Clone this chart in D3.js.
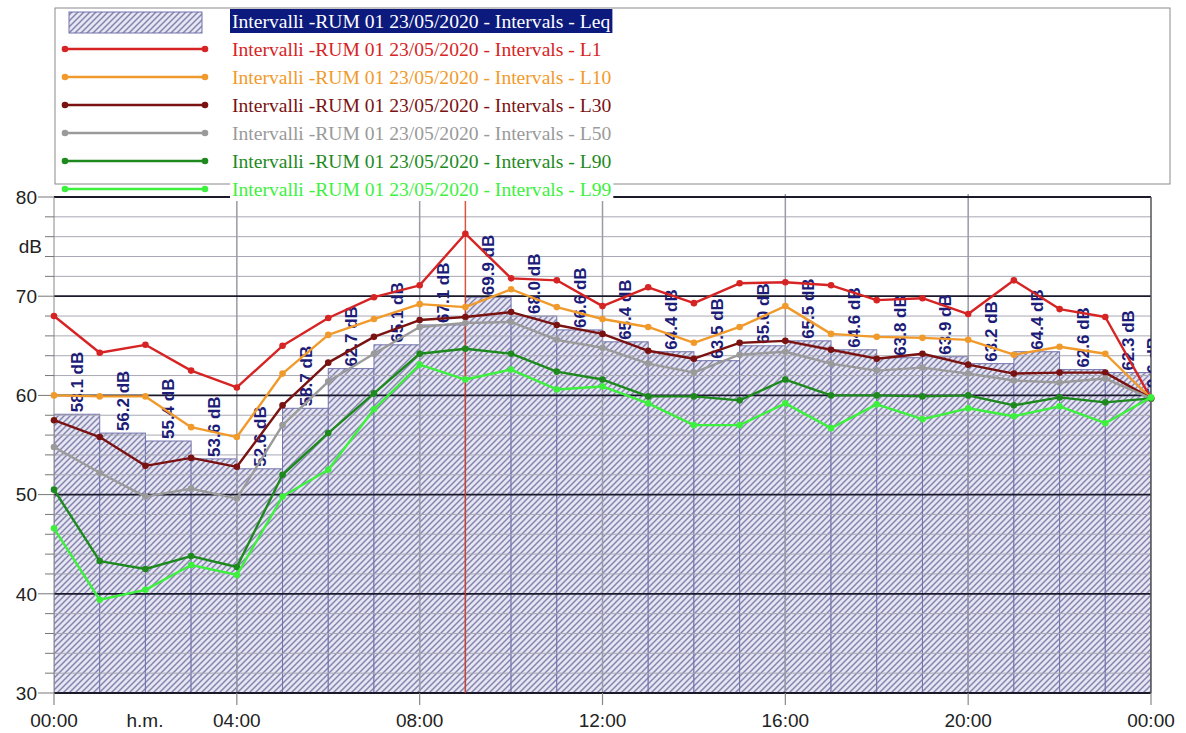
<!DOCTYPE html>
<html><head><meta charset="utf-8">
<script src="https://cdn.jsdelivr.net/npm/d3@7"></script>
<style>body{margin:0;background:#fff}svg{display:block}</style>
</head><body>
<svg id="c" width="1186" height="733"></svg>
<script>
// ---- data ----
const hours = [0,1,2,3,4,5,6,7,8,9,10,11,12,13,14,15,16,17,18,19,20,21,22,23,24];
const leq  = [58.1,56.2,55.4,53.6,52.6,58.7,62.7,65.1,67.1,69.9,68.0,66.6,65.4,64.4,63.5,65.0,65.5,64.6,63.8,63.9,63.2,64.4,62.6,62.3,59.6];
const l1   = [68.0,64.3,65.1,62.5,60.8,65.0,67.8,69.9,71.1,76.3,71.8,71.6,69.0,70.9,69.3,71.3,71.4,71.1,69.6,69.8,68.2,71.6,68.7,67.9,59.7];
const l10  = [60.0,59.9,59.9,56.8,55.8,62.2,66.1,67.7,69.2,68.9,70.7,68.9,67.7,66.9,65.3,66.9,69.0,66.2,65.9,65.8,65.6,64.1,64.9,64.2,59.7];
const l30  = [57.5,55.8,52.9,53.7,52.8,59.0,63.3,65.9,67.6,67.9,68.4,67.1,66.2,64.5,63.7,65.3,65.5,64.6,63.7,64.2,63.1,62.2,62.3,62.3,59.7];
const l50  = [54.8,52.2,49.8,50.6,49.6,57.0,61.4,64.2,66.9,67.3,67.4,65.6,64.8,63.2,62.3,64.1,64.4,63.2,62.5,62.8,62.2,61.5,61.3,61.7,59.7];
const l90  = [50.5,43.3,42.5,43.8,42.7,52.0,56.2,60.2,64.2,64.7,64.2,62.4,61.6,59.9,59.9,59.5,61.6,60.0,60.0,59.9,60.0,59.0,59.8,59.3,59.7];
const l99  = [46.6,39.4,40.4,42.9,41.9,49.8,52.5,58.6,63.1,61.6,62.6,60.6,60.9,59.2,57.0,57.0,59.2,56.7,59.1,57.6,58.7,57.9,58.9,57.2,59.8];
const seriesNames = ["L1","L10","L30","L50","L90","L99"];
const seriesColors = ["#d62424","#f19a2c","#7a1212","#9a9a9a","#1e8a1e","#3ef03e"];
const legendPrefix = "Intervalli -RUM 01 23/05/2020 - Intervals - ";
const yTickLabels = [30,40,50,60,70,80];
const xTickHours = [0,4,8,12,16,20,24];
const xTickLabels = ["00:00","04:00","08:00","12:00","16:00","20:00","00:00"];
const cursorHour = 9;

// ---- layout ----
const svg = d3.select("#c");
const L = 54, R = 1151, T = 197, B = 693;
const x = d3.scaleLinear().domain([0,24]).range([L,R]);
const y = d3.scaleLinear().domain([30,80]).range([B,T]);

const defs = svg.append("defs");
const P = 6;
const pat = defs.append("pattern").attr("id","hatch").attr("patternUnits","userSpaceOnUse")
  .attr("width",P).attr("height",P);
pat.append("rect").attr("width",P).attr("height",P).attr("fill","#e6e6f3");
pat.append("path").attr("d",`M-1,1 l2,-2 M0,${P} l${P},-${P} M${P-1},${P+1} l2,-2`).attr("stroke","#8484ae").attr("stroke-width",1.5);
defs.append("clipPath").attr("id","clip").append("rect").attr("x",L).attr("y",180).attr("width",R-L).attr("height",B-180);

// bars (Leq)
const gBars = svg.append("g").attr("clip-path","url(#clip)");
gBars.selectAll("rect").data(leq).join("rect")
  .attr("x",(d,i)=>x(hours[i]))
  .attr("width",(d,i)=>x(1)-x(0))
  .attr("y",d=>y(d)).attr("height",d=>B-y(d))
  .attr("fill","url(#hatch)").attr("stroke","#7272ae").attr("stroke-width",1);

// horizontal grid
const minor = d3.range(30,81,2);
svg.append("g").selectAll("line").data(minor.filter(v=>v%10!==0)).join("line")
  .attr("x1",L).attr("x2",R).attr("y1",d=>y(d)).attr("y2",d=>y(d))
  .attr("stroke","#a8a8b4").attr("stroke-width",1);
// vertical grid
svg.append("g").selectAll("line").data(xTickHours.slice(1,-1)).join("line")
  .attr("x1",d=>x(d)).attr("x2",d=>x(d)).attr("y1",T-3).attr("y2",B)
  .attr("stroke","#9a9aa8").attr("stroke-width",1.5);
svg.append("g").selectAll("line").data(yTickLabels).join("line")
  .attr("x1",L).attr("x2",R).attr("y1",d=>y(d)).attr("y2",d=>y(d))
  .attr("stroke","#1a1a2a").attr("stroke-width",d=>d===80||d===30?2.2:1.8);
// borders
svg.append("line").attr("x1",R).attr("x2",R).attr("y1",T).attr("y2",B).attr("stroke","#555").attr("stroke-width",1.5);
svg.append("line").attr("x1",L).attr("x2",L).attr("y1",T).attr("y2",B).attr("stroke","#888").attr("stroke-width",1);

// cursor
svg.append("line").attr("x1",x(cursorHour)).attr("x2",x(cursorHour)).attr("y1",189).attr("y2",B)
  .attr("stroke","#d23a22").attr("stroke-width",1.5).attr("opacity",0.85);

// y axis ticks and labels
svg.append("g").selectAll("line").data(minor).join("line")
  .attr("x1",d=>d%10===0?38:45).attr("x2",L).attr("y1",d=>y(d)).attr("y2",d=>y(d))
  .attr("stroke","#777").attr("stroke-width",1);
svg.append("g").selectAll("text").data(yTickLabels).join("text")
  .attr("x",37).attr("y",d=>y(d)).attr("dy","0.36em").attr("text-anchor","end")
  .attr("font-family","Liberation Sans, Arial, sans-serif").attr("font-size",19).attr("fill","#222")
  .text(d=>d);
svg.append("text").attr("x",42).attr("y",y(75)).attr("dy","0.36em").attr("text-anchor","end")
  .attr("font-family","Liberation Sans, Arial, sans-serif").attr("font-size",19).attr("fill","#222").text("dB");

// x axis
svg.append("g").selectAll("line").data(xTickHours).join("line")
  .attr("x1",d=>x(d)).attr("x2",d=>x(d)).attr("y1",B).attr("y2",B+12)
  .attr("stroke","#888").attr("stroke-width",1.2);
svg.append("g").selectAll("text").data(xTickLabels).join("text")
  .attr("x",(d,i)=>x(xTickHours[i])).attr("y",727).attr("text-anchor","middle")
  .attr("font-family","Liberation Sans, Arial, sans-serif").attr("font-size",19).attr("fill","#222")
  .text(d=>d);
svg.append("text").attr("x",145).attr("y",727).attr("text-anchor","middle")
  .attr("font-family","Liberation Sans, Arial, sans-serif").attr("font-size",19).attr("fill","#222").text("h.m.");

// bar labels
const gLab = svg.append("g").attr("clip-path","url(#clip)");
gLab.selectAll("text").data(leq).join("text")
  .attr("transform",(d,i)=>{
    const cx = i===leq.length-1 ? x(hours[i]) + 2 : (x(hours[i])+x(hours[i]+1))/2;
    return `translate(${cx},${y(d)-2}) rotate(-90)`;})
  .attr("dy","0.36em")
  .attr("font-family","Liberation Sans, Arial, sans-serif").attr("font-weight","bold")
  .attr("font-size",17).attr("fill","#1c1c78")
  .text(d=>d.toFixed(1)+" dB");

// series lines
const allSeries = [l1,l10,l30,l50,l90,l99];
const line = d3.line().x((d,i)=>x(hours[i])).y(d=>y(d));
allSeries.forEach((s,k)=>{
  const g = svg.append("g");
  g.append("path").datum(s).attr("d",line).attr("fill","none")
    .attr("stroke",seriesColors[k]).attr("stroke-width",2.4).attr("stroke-linejoin","round");
  g.selectAll("circle").data(s).join("circle")
    .attr("cx",(d,i)=>x(hours[i])).attr("cy",d=>y(d)).attr("r",3.3).attr("fill",seriesColors[k]);
});

// legend
const lg = svg.append("g");
lg.append("rect").attr("x",55).attr("y",8).attr("width",1115).attr("height",176)
  .attr("fill","#fff").attr("stroke","#8a8a8a").attr("stroke-width",1);
const rowY = k => 21 + k*28;
const fontLeg = "Liberation Serif, Times New Roman, serif";
const legFs = 19.6;
// Leq row
lg.append("rect").attr("x",69).attr("y",12).attr("width",133).attr("height",21)
  .attr("fill","url(#hatch)").attr("stroke","#7272ae");
const leqTxt = lg.append("text").attr("x",232).attr("y",rowY(0)).attr("dy","0.34em")
  .attr("font-family",fontLeg).attr("font-size",legFs).attr("fill","#fff").text(legendPrefix+"Leq");
const bb0 = leqTxt.node().getBBox();
lg.insert("rect","text").attr("x",bb0.x-2).attr("y",9).attr("width",bb0.width+4).attr("height",24).attr("fill","#0c1a7e");
seriesNames.forEach((n,k)=>{
  const yy = rowY(k+1);
  lg.append("line").attr("x1",65).attr("x2",205).attr("y1",yy).attr("y2",yy)
    .attr("stroke",seriesColors[k]).attr("stroke-width",2.4);
  [65,205].forEach(px=>lg.append("circle").attr("cx",px).attr("cy",yy).attr("r",3.3).attr("fill",seriesColors[k]));
  const t = lg.append("text").attr("x",232).attr("y",yy).attr("dy","0.34em")
    .attr("font-family",fontLeg).attr("font-size",legFs).attr("fill",seriesColors[k]).text(legendPrefix+n);
  const bb = t.node().getBBox();
  lg.insert("rect",()=>t.node()).attr("x",bb.x-2).attr("y",yy-12).attr("width",bb.width+4).attr("height",24).attr("fill","#fff");
});
</script>
</body></html>
